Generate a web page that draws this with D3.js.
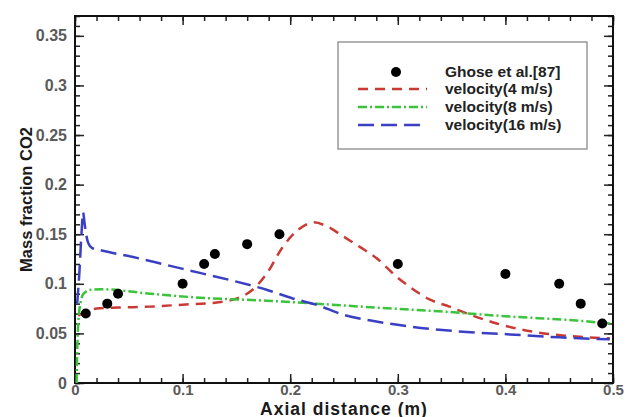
<!DOCTYPE html>
<html lang="en">
<head>
<meta charset="utf-8" />
<title>Mass fraction CO2</title>
<script src="https://d3js.org/d3.v7.min.js"></script>
<style>
  body { margin: 0; background: #fff; }
  svg text { font-family: "Liberation Sans", Arial, sans-serif; font-weight: bold; }
  .tick line { stroke: #222; stroke-width: 1.5; }
  .tick text { fill: #5a5a5a; font-size: 16px; }
  .xlab .tick text { font-size: 15px; }
</style>
</head>
<body>
<svg width="633" height="417"></svg>
<script>
// Measured points (Ghose et al.) and simulated profiles, x in m
var ghoseX = [0.01, 0.03, 0.04, 0.10, 0.12, 0.13, 0.16, 0.19, 0.30, 0.40, 0.45, 0.47, 0.49];
var ghoseY = [0.070, 0.080, 0.090, 0.100, 0.120, 0.130, 0.140, 0.150, 0.120, 0.110, 0.100, 0.080, 0.060];

var v4X = [0.003, 0.01, 0.02, 0.04, 0.07, 0.10, 0.13, 0.15, 0.165, 0.178, 0.193, 0.208, 0.222, 0.234, 0.249, 0.265, 0.28, 0.299, 0.311, 0.33, 0.348, 0.367, 0.392, 0.419, 0.453, 0.497];
var v4Y = [0.068, 0.072, 0.075, 0.076, 0.077, 0.079, 0.081, 0.085, 0.094, 0.110, 0.137, 0.155, 0.162, 0.158, 0.148, 0.137, 0.126, 0.107, 0.097, 0.084, 0.077, 0.069, 0.060, 0.053, 0.048, 0.045];

var v8X = [0.0015, 0.002, 0.003, 0.005, 0.008, 0.015, 0.025, 0.07, 0.116, 0.178, 0.224, 0.28, 0.342, 0.404, 0.466, 0.497];
var v8Y = [0.0, 0.03, 0.06, 0.08, 0.090, 0.094, 0.0945, 0.090, 0.086, 0.083, 0.080, 0.076, 0.072, 0.067, 0.063, 0.060];

var v16X = [0.002, 0.004, 0.006, 0.0075, 0.009, 0.012, 0.016, 0.023, 0.054, 0.085, 0.116, 0.147, 0.178, 0.203, 0.224, 0.249, 0.28, 0.311, 0.357, 0.404, 0.45, 0.497];
var v16Y = [0.080, 0.110, 0.150, 0.172, 0.160, 0.142, 0.136, 0.134, 0.127, 0.119, 0.111, 0.103, 0.094, 0.085, 0.079, 0.069, 0.062, 0.057, 0.052, 0.049, 0.046, 0.044];

var xTicks = [0, 0.1, 0.2, 0.3, 0.4, 0.5];
var yTicks = [0, 0.05, 0.1, 0.15, 0.2, 0.25, 0.3, 0.35];

var seriesNames = ["Ghose et al.[87]", "velocity(4 m/s)", "velocity(8 m/s)", "velocity(16 m/s)"];

var svg = d3.select("svg");

var x = d3.scaleLinear().domain([0, 0.5]).range([75, 613]);
var y = d3.scaleLinear().domain([0, 0.37]).range([383, 16]);

var minorX = d3.range(0, 0.5001, 0.02);
var minorY = d3.range(0, 0.3701, 0.01);

// major + minor ticks on all four sides, pointing inward
function ticks(axisFn, scale, values, size, transform, labels, pad) {
  var g = svg.append("g").attr("transform", transform)
    .call(axisFn(scale).tickValues(values).tickSize(size).tickPadding(pad || 9)
      .tickFormat(labels ? d3.format("") : ""));
  g.select(".domain").remove();
  return g;
}
ticks(d3.axisBottom, x, minorX, -5, "translate(0,383)", false);
ticks(d3.axisBottom, x, xTicks, -9, "translate(0,383)", true, 1).attr("class", "xlab");
ticks(d3.axisTop, x, minorX, -5, "translate(0,16)", false);
ticks(d3.axisTop, x, xTicks, -9, "translate(0,16)", false);
ticks(d3.axisLeft, y, minorY, -5, "translate(75,0)", false);
ticks(d3.axisLeft, y, yTicks, -9, "translate(75,0)", true, 8);
ticks(d3.axisRight, y, minorY, -5, "translate(613,0)", false);
ticks(d3.axisRight, y, yTicks, -9, "translate(613,0)", false);

// frame
svg.append("rect")
  .attr("x", x(0)).attr("y", y(0.37))
  .attr("width", x(0.5) - x(0)).attr("height", y(0) - y(0.37))
  .attr("fill", "none").attr("stroke", "#111").attr("stroke-width", 2);

var styles = [
  { color: "#c93a34", dash: "10,7" },
  { color: "#3bc43b", dash: "9,3,2,3" },
  { color: "#3b3fc4", dash: "16,7" }
];

var line = d3.line()
  .x(function (d) { return x(d[0]); })
  .y(function (d) { return y(d[1]); })
  .curve(d3.curveMonotoneX);

var curves = [d3.zip(v4X, v4Y), d3.zip(v8X, v8Y), d3.zip(v16X, v16Y)];

svg.append("g").selectAll("path")
  .data(curves)
  .enter().append("path")
  .attr("d", line)
  .attr("fill", "none")
  .attr("stroke", function (d, i) { return styles[i].color; })
  .attr("stroke-width", 2.5)
  .attr("stroke-dasharray", function (d, i) { return styles[i].dash; });

svg.append("g").selectAll("circle")
  .data(d3.zip(ghoseX, ghoseY))
  .enter().append("circle")
  .attr("cx", function (d) { return x(d[0]); })
  .attr("cy", function (d) { return y(d[1]); })
  .attr("r", 5)
  .attr("fill", "#000");

// legend
var lg = svg.append("g").attr("transform", "translate(338,42)");
lg.append("rect").attr("width", 249).attr("height", 107)
  .attr("fill", "#fff").attr("stroke", "#999").attr("stroke-width", 1.5);
var rowY = [30, 47, 65, 83];
lg.append("circle").attr("cx", 58).attr("cy", rowY[0]).attr("r", 5).attr("fill", "#000");
styles.forEach(function (s, i) {
  lg.append("line")
    .attr("x1", 20).attr("x2", 89)
    .attr("y1", rowY[i + 1]).attr("y2", rowY[i + 1])
    .attr("stroke", s.color).attr("stroke-width", 2.5)
    .attr("stroke-dasharray", s.dash);
});
lg.selectAll("text.lbl")
  .data(seriesNames)
  .enter().append("text")
  .attr("class", "lbl")
  .attr("x", 107)
  .attr("y", function (d, i) { return rowY[i] + 5; })
  .attr("font-size", 15.5)
  .attr("fill", "#222")
  .text(function (d) { return d; });

// axis titles
svg.append("text")
  .attr("x", (x(0) + x(0.5)) / 2).attr("y", 414.5)
  .attr("text-anchor", "middle").attr("font-size", 17.5).attr("letter-spacing", 1)
  .attr("fill", "#1a1a1a")
  .text("Axial distance (m)");
svg.append("text")
  .attr("transform", "translate(32," + (y(0) + y(0.37)) / 2 + ") rotate(-90)")
  .attr("text-anchor", "middle").attr("font-size", 16.5).attr("fill", "#1a1a1a")
  .text("Mass fraction CO2");
</script>
</body>
</html>
